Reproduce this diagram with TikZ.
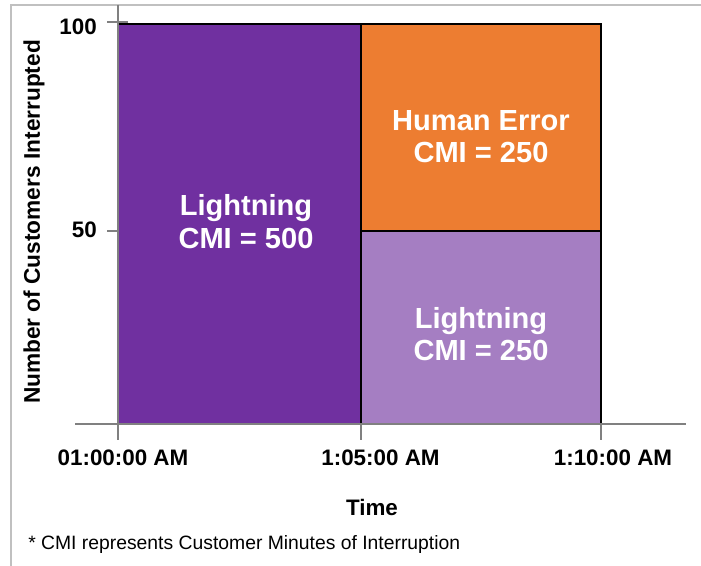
\documentclass[tikz,border=0pt]{standalone}
\usepackage{fontspec}
\setmainfont{Liberation Sans}
\definecolor{darkpurple}{HTML}{7030A0}
\definecolor{lightpurple}{HTML}{A57EC2}
\definecolor{orangebar}{HTML}{ED7D31}
\definecolor{framegray}{HTML}{C0C0C0}
\definecolor{axisgray}{HTML}{808080}
\begin{document}
\begin{tikzpicture}[x=0.75pt,y=-0.75pt,
  bar/.style={draw=black,line width=1.1pt},
  axisline/.style={draw=axisgray,line width=0.9pt},
  barlabel/.style={text=white,font=\fontsize{21.8}{25}\selectfont\bfseries,anchor=base,inner sep=0pt},
  ticklabel/.style={font=\fontsize{16.8}{19}\selectfont\bfseries,anchor=base,inner sep=0pt},
  ylabelnum/.style={font=\fontsize{16.8}{19}\selectfont\bfseries,anchor=base east,inner sep=0pt}]
\useasboundingbox (0,0) rectangle (701,566);
\fill[white] (0,0) rectangle (701,566);
% frame
\draw[framegray,line width=1.6pt] (11,566) -- (11,5) -- (701,5);
% bars
\fill[darkpurple] (118,24) rectangle (361,424);
\fill[orangebar] (361,24) rectangle (601,231);
\fill[lightpurple] (361,231) rectangle (601,424);
\draw[bar] (118,424) -- (118,24) -- (361,24) -- (361,424);
\draw[bar] (361,24) -- (601,24) -- (601,424) -- (118,424);
\draw[bar] (361,231) -- (601,231);
% axes
\coordinate (yaxtop) at (118,5);
\coordinate (yaxbot) at (118,440);
\coordinate (xaxl) at (75,424);
\coordinate (xaxr) at (686,424);
\draw[axisline] (yaxtop) -- (yaxbot);
\draw[axisline] (xaxl) -- (xaxr);
\coordinate (t100a) at (107,22); \coordinate (t100b) at (128,22);
\coordinate (t50a) at (107,231); \coordinate (t50b) at (118,231);
\draw[axisline] (t100a) -- (t100b);
\draw[axisline] (t50a) -- (t50b);
\coordinate (tx2a) at (361,424); \coordinate (tx2b) at (361,440);
\coordinate (tx3a) at (601,424); \coordinate (tx3b) at (601,440);
\draw[axisline] (tx2a) -- (tx2b);
\draw[axisline] (tx3a) -- (tx3b);
% y tick labels
\node[ylabelnum] (y100) at (97,35) {100};
\node[ylabelnum] (y50) at (97,238) {50};
% x tick labels
\node[ticklabel] (x1) at (123,466) {01:00:00 AM};
\node[ticklabel] (x2) at (380.5,466) {1:05:00 AM};
\node[ticklabel] (x3) at (613,466) {1:10:00 AM};
\node[ticklabel] (xtitle) at (372,516) {Time};
% y title
\node[font=\fontsize{17}{20}\selectfont\bfseries,rotate=90,inner sep=0pt] (ytitle) at (34,222) {Number of Customers Interrupted};
% bar labels
\node[barlabel] (l1a) at (246,216) {Lightning};
\node[barlabel] (l1b) at (246,249) {CMI = 500};
\node[barlabel] (h1a) at (481,131) {Human Error};
\node[barlabel] (h1b) at (481,163) {CMI = 250};
\node[barlabel] (l2a) at (481,329) {Lightning};
\node[barlabel] (l2b) at (481,361) {CMI = 250};
% footnote
\node[font=\fontsize{14.5}{17}\selectfont,anchor=base west,inner sep=0pt] (foot) at (28,550) {* CMI represents Customer Minutes of Interruption};
\end{tikzpicture}
\end{document}
